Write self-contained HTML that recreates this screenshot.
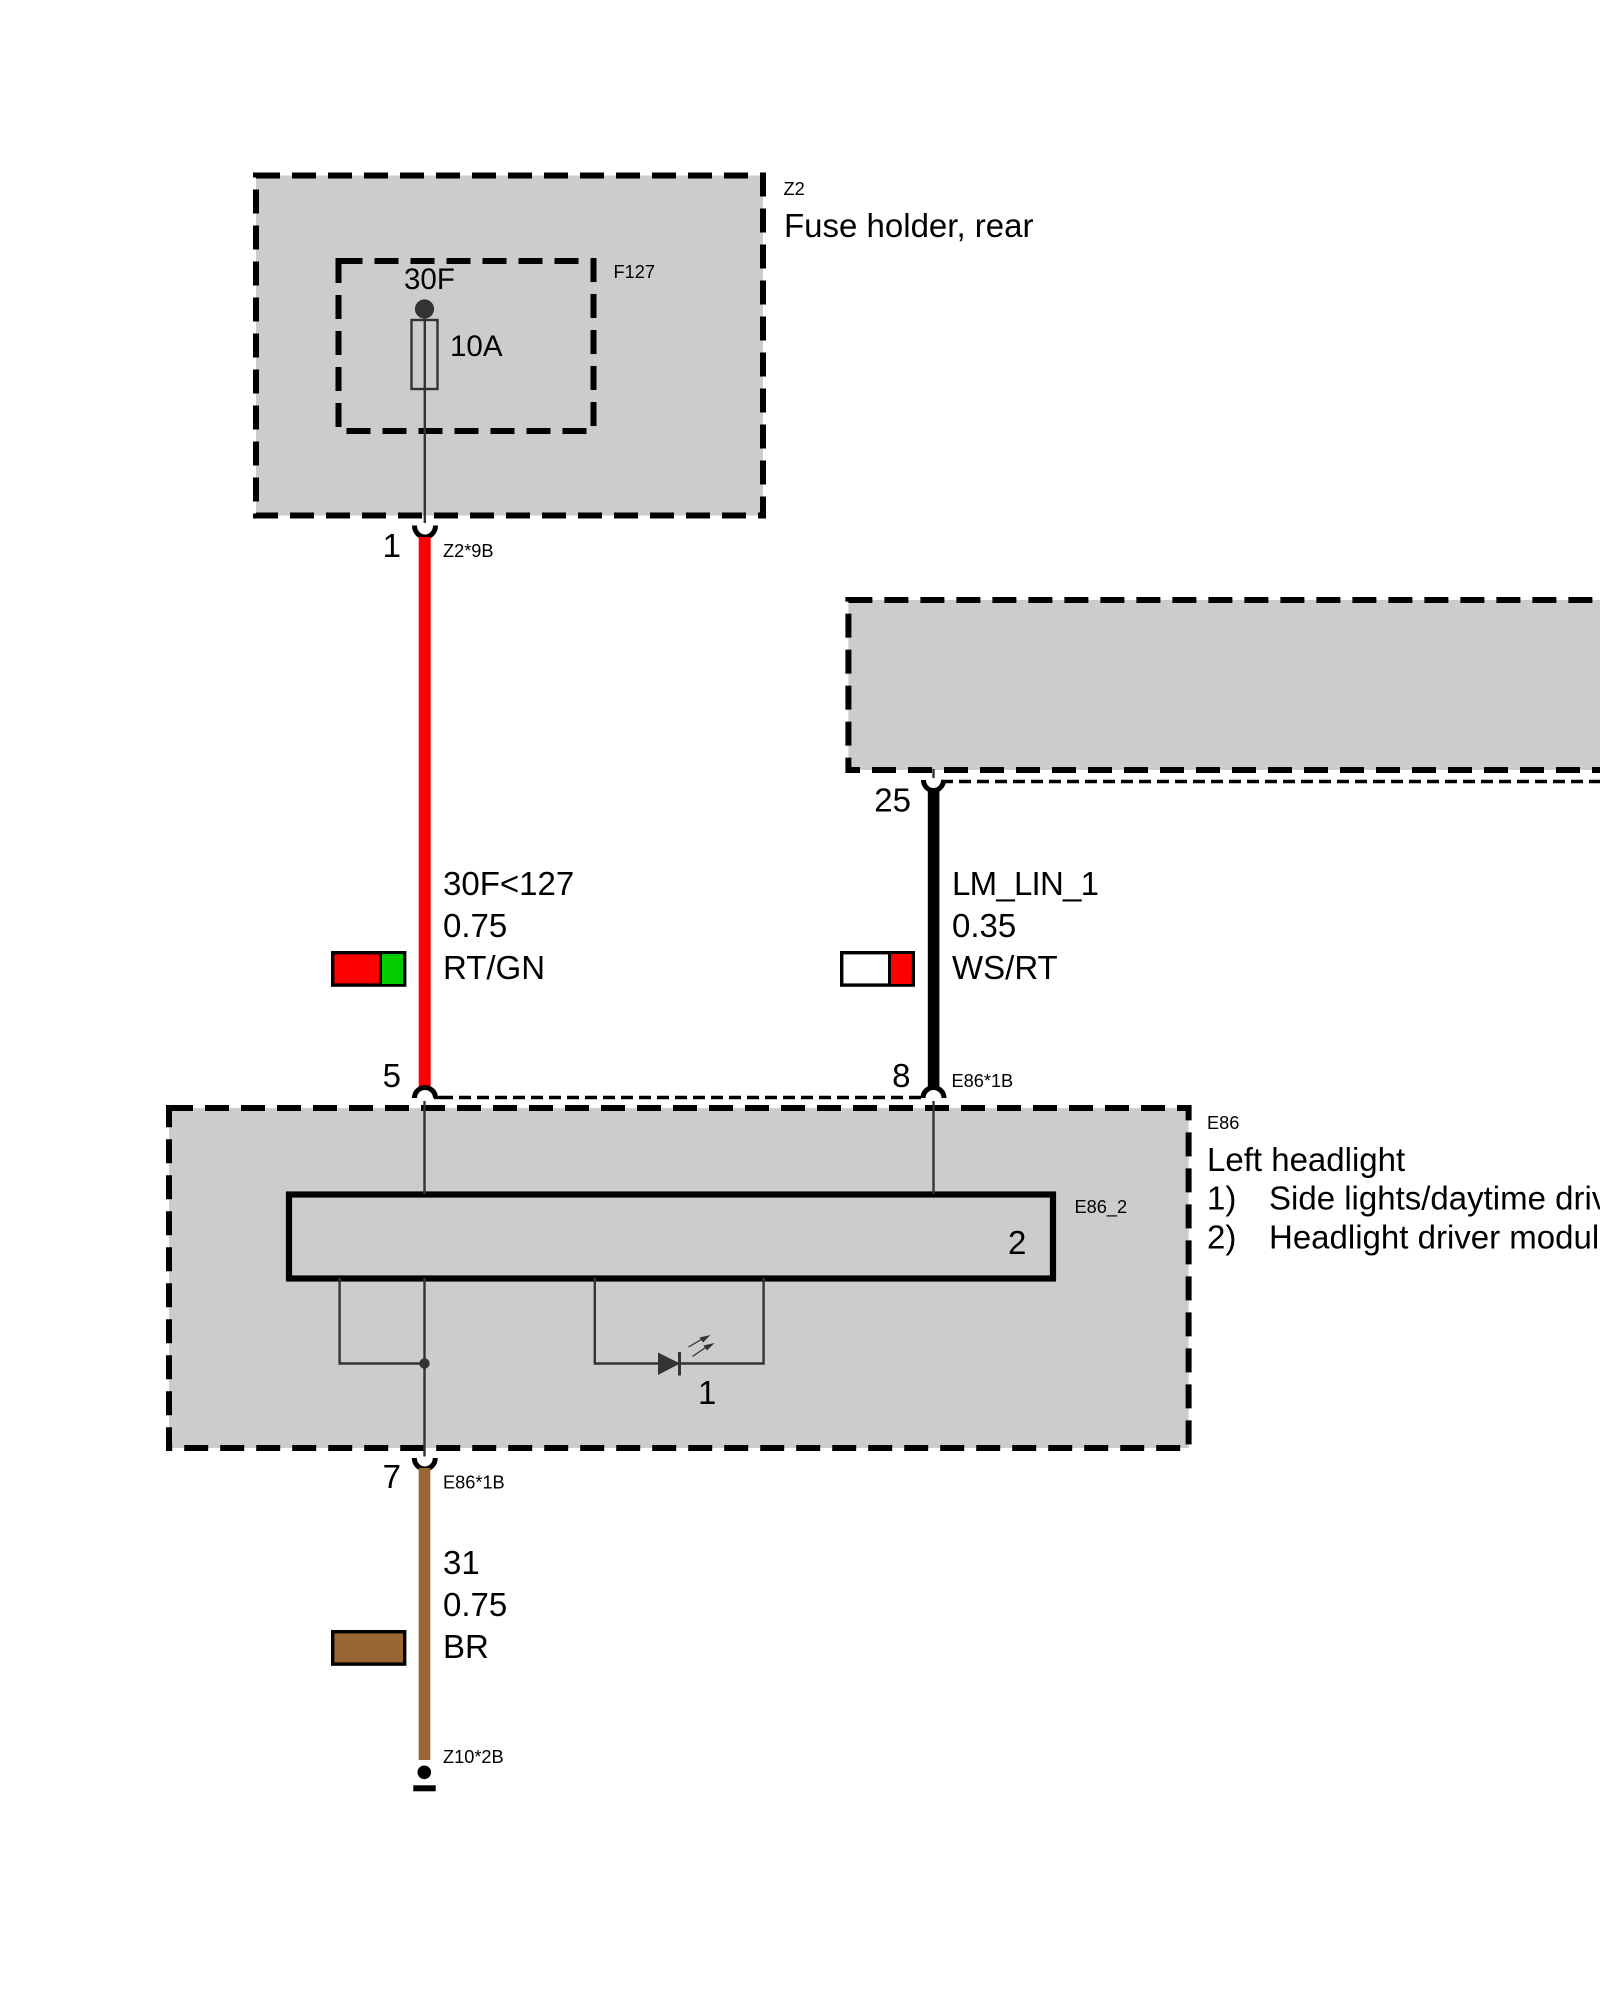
<!DOCTYPE html>
<html>
<head>
<meta charset="utf-8">
<title>Wiring diagram</title>
<style>
html,body{margin:0;padding:0;background:#fff;width:1600px;height:2000px;overflow:hidden}
svg{display:block}
text{font-family:"Liberation Sans",sans-serif;fill:#000;font-size:33px}
.s{font-size:18.2px}
.m{font-size:29.5px}
.box{fill:#ccc;stroke:#000;stroke-width:6;stroke-dasharray:24 12}
.in{fill:none;stroke:#000;stroke-width:6;stroke-dasharray:24 12}
.t{fill:none;stroke:#333;stroke-width:2.4}
.arc{fill:none;stroke:#000;stroke-width:5}
.dl{fill:none;stroke:#000;stroke-width:3.4;stroke-dasharray:12 6}
.sw{stroke:#000;stroke-width:3.4}
</style>
</head>
<body>
<svg width="1600" height="2000" viewBox="0 0 1600 2000" xmlns="http://www.w3.org/2000/svg">
<rect x="0" y="0" width="1600" height="2000" fill="#fff"/>

<!-- Z2 fuse holder -->
<rect class="box" x="256" y="175.5" width="507" height="340"/>
<rect class="in" x="338.5" y="261" width="255" height="170"/>
<rect x="411.5" y="320" width="26" height="69" fill="none" stroke="#333" stroke-width="2.4"/>
<circle cx="424.5" cy="309" r="9.6" fill="#333"/>
<line class="t" x1="424.8" y1="309" x2="424.8" y2="523"/>
<path class="arc" d="M414.5 525.5 A10.5 11.5 0 0 0 435.5 525.5"/>
<rect x="418.7" y="537" width="12" height="551" fill="#f00"/>

<!-- right module -->
<rect class="box" x="848.4" y="600" width="1090.8" height="170"/>
<line class="t" x1="933.5" y1="769" x2="933.5" y2="778"/>
<path class="arc" d="M923.5 780 A10 10.5 0 0 0 943.5 780"/>
<line x1="941" y1="781.5" x2="1600" y2="781.5" class="dl"/>
<rect x="927.8" y="789" width="11.6" height="300" fill="#000"/>
<path class="arc" d="M923 1098 A10.5 10.5 0 0 1 944 1098"/>

<!-- connector dash between 5 and 8 -->
<path class="arc" d="M414.5 1098 A10.5 10.5 0 0 1 435.5 1098"/>
<line x1="441" y1="1097.5" x2="921" y2="1097.5" class="dl"/>
<line x1="434" y1="1097.5" x2="442" y2="1097.5" stroke="#000" stroke-width="3.4"/>

<!-- E86 -->
<rect class="box" x="169" y="1108" width="1019.6" height="340"/>
<rect x="289" y="1194.5" width="764" height="84" fill="none" stroke="#000" stroke-width="6.2"/>
<line class="t" x1="424.5" y1="1101" x2="424.5" y2="1194"/>
<line class="t" x1="933.5" y1="1101" x2="933.5" y2="1194"/>
<line class="t" x1="424.5" y1="1278" x2="424.5" y2="1456.5"/>
<polyline class="t" points="339.6,1278 339.6,1363.5 424.5,1363.5"/>
<circle cx="424.5" cy="1363.5" r="5.2" fill="#333"/>
<polyline class="t" points="594.8,1278 594.8,1363.5 763.6,1363.5 763.6,1278"/>
<polygon points="658,1352.5 680,1363.5 658,1375" fill="#333"/>
<line x1="679.5" y1="1352" x2="679.5" y2="1375.5" stroke="#333" stroke-width="3"/>
<line x1="688.5" y1="1347" x2="703" y2="1338.5" stroke="#333" stroke-width="1.3"/>
<polygon points="710.5,1335 699.5,1337.5 703,1342.5" fill="#333"/>
<line x1="692.5" y1="1356.5" x2="707" y2="1346.5" stroke="#333" stroke-width="1.3"/>
<polygon points="714.5,1343 703.5,1345.5 707,1350.5" fill="#333"/>

<!-- pin 7 and brown wire -->
<path class="arc" d="M414.3 1458 A10.5 11 0 0 0 435.3 1458"/>
<rect x="418.7" y="1468" width="11.6" height="292" fill="#963"/>
<circle cx="424.3" cy="1772.3" r="6.8" fill="#000"/>
<rect x="413.3" y="1785.3" width="22.4" height="6" fill="#000"/>

<!-- swatches -->
<rect class="sw" x="332.7" y="952.7" width="72" height="32.4" fill="#f00"/>
<rect x="380" y="954" width="23" height="30" fill="#0c0"/>
<line x1="380.5" y1="953" x2="380.5" y2="985" stroke="#000" stroke-width="3"/>
<rect class="sw" x="841.7" y="952.7" width="71.6" height="32.4" fill="#fff"/>
<rect x="889.5" y="954" width="22" height="30" fill="#f00"/>
<line x1="889.5" y1="953" x2="889.5" y2="985" stroke="#000" stroke-width="3"/>
<rect class="sw" x="332.7" y="1631.7" width="72" height="32.4" fill="#963"/>

<!-- labels -->
<text class="s" x="783.5" y="195">Z2</text>
<text x="784" y="237">Fuse holder, rear</text>
<text class="s" x="613.5" y="278">F127</text>
<text class="m" x="404" y="289">30F</text>
<text class="m" x="450" y="356">10A</text>
<text x="401" y="557" text-anchor="end">1</text>
<text class="s" x="443" y="557">Z2*9B</text>
<text x="911" y="811.5" text-anchor="end">25</text>

<text x="443" y="895">30F&lt;127</text>
<text x="443" y="937">0.75</text>
<text x="443" y="979">RT/GN</text>

<text x="952" y="895" textLength="147" lengthAdjust="spacing">LM_LIN_1</text>
<text x="952" y="937">0.35</text>
<text x="952" y="979">WS/RT</text>

<text x="401" y="1087" text-anchor="end">5</text>
<text x="910.5" y="1087" text-anchor="end">8</text>
<text class="s" x="951.5" y="1087">E86*1B</text>
<text class="s" x="1207" y="1129">E86</text>
<text x="1207" y="1171">Left headlight</text>
<text x="1207" y="1209.5">1)</text>
<text x="1269" y="1209.5">Side lights/daytime driving lights</text>
<text x="1207" y="1248.5">2)</text>
<text x="1269" y="1248.5">Headlight driver module</text>
<text class="s" x="1074.5" y="1213">E86_2</text>
<text x="1008" y="1254">2</text>
<text x="698" y="1404">1</text>

<text x="401" y="1488" text-anchor="end">7</text>
<text class="s" x="443" y="1488.5">E86*1B</text>
<text x="443" y="1574">31</text>
<text x="443" y="1616">0.75</text>
<text x="443" y="1658">BR</text>
<text class="s" x="443" y="1763">Z10*2B</text>
</svg>
</body>
</html>
